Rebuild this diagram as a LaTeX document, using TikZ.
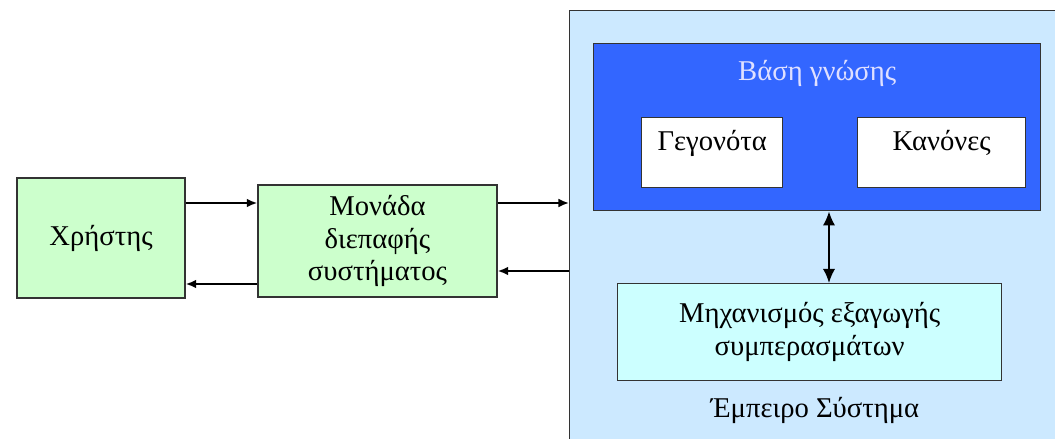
\documentclass[tikz,border=0pt]{standalone}
\usepackage{fontspec}
\setmainfont{Liberation Serif}
\usetikzlibrary{arrows.meta,positioning}

\definecolor{usergreen}{RGB}{204,255,204}
\definecolor{sysblue}{RGB}{204,233,255}
\definecolor{kbblue}{RGB}{51,102,255}
\definecolor{mechcyan}{RGB}{204,255,255}

\begin{document}
\begin{tikzpicture}[x=0.02cm,y=-0.02cm,>={Latex[length=6pt,width=5pt]},
  box/.style={draw=black!80,thick,inner sep=0pt,align=center,
    font=\fontsize{16.3}{18.5}\selectfont},
  txt/.style={inner sep=0pt,font=\fontsize{16.3}{18.5}\selectfont},
  link/.style={line width=1.1pt,->}]
\useasboundingbox (0,0) rectangle (1055,439);
\clip (0,0) rectangle (1055,439);

% expert system
\node[box,fill=sysblue,anchor=north west,minimum width=10.3cm,minimum height=9cm] (sys) at (569,10) {};
\node[box,fill=kbblue,text=blue!12,anchor=north west,minimum width=8.94cm,
  text height=0.74cm,text depth=2.6cm] (kb) at (593,43) {Βάση γνώσης};
\node[box,fill=white,anchor=north west,minimum width=2.82cm,
  text height=0.66cm,text depth=0.74cm] (facts) at (641,117) {Γεγονότα};
\node[box,fill=white,anchor=north west,minimum width=3.36cm,
  text height=0.66cm,text depth=0.74cm] (rules) at (857,117) {Κανόνες};
\node[box,fill=mechcyan,anchor=north west,minimum width=7.68cm,minimum height=1.94cm] (mech) at (617,283)
  {Μηχανισμός εξαγωγής\\συμπερασμάτων};
\node[txt] (syslabel) at (815,410) {Έμπειρο Σύστημα};

% user and interface
\node[box,fill=usergreen,minimum width=3.36cm,minimum height=2.4cm] (user) at (101,238) {Χρήστης};
\node[box,fill=usergreen,minimum width=4.78cm,minimum height=2.24cm] (ui) at (377.5,241)
  {Μονάδα\\διεπαφής\\συστήματος};

\draw[link] (user.east |- 0,203) -- (ui.west |- 0,203);
\draw[link] (ui.west |- 0,284) -- (user.east |- 0,284);
\draw[link] (ui.east |- 0,203) -- (sys.west |- 0,203);
\draw[link] (sys.west |- 0,271) -- (ui.east |- 0,271);
\draw[link,{Latex[length=8pt,width=7pt]}-{Latex[length=8pt,width=7pt]}] (kb.south -| 829,0) -- (mech.north -| 829,0);
\end{tikzpicture}
\end{document}
